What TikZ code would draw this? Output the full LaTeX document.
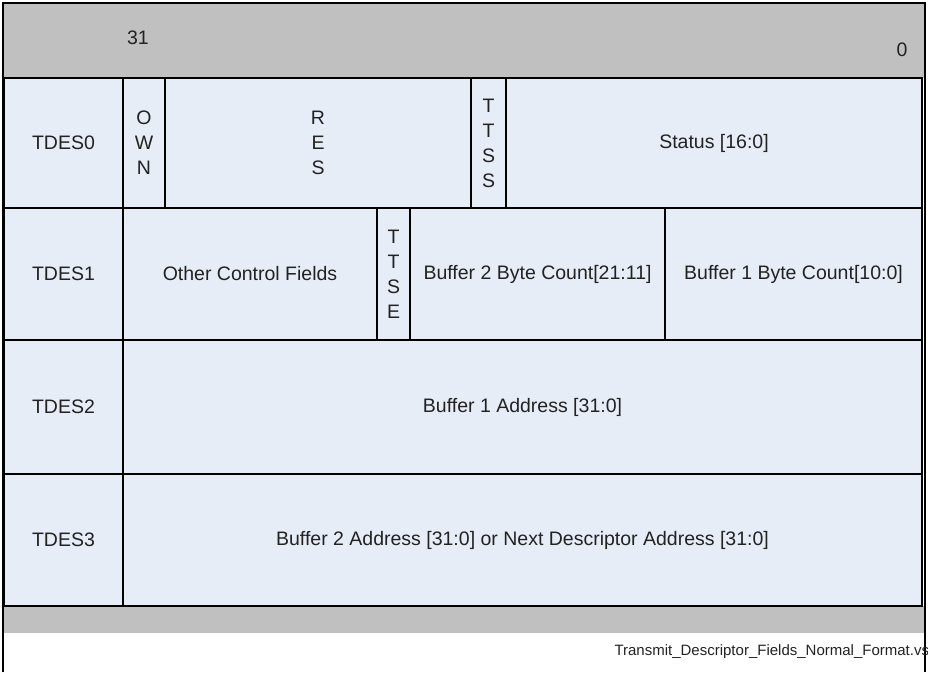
\documentclass[tikz,border=0pt]{standalone}
\usepackage{fontspec}
\setmainfont{Liberation Sans}
\definecolor{DescHeadColor}{RGB}{192,192,192}
\definecolor{DescCellColor}{RGB}{230,237,247}
\definecolor{DescTextColor}{RGB}{34,34,34}

\begin{document}
\begin{tikzpicture}[x=1pt,y=-1pt,font=\fontsize{19.5}{25}\selectfont,text=DescTextColor,
  fld/.style n args={2}{rectangle,draw=black,line width=2pt,fill=DescCellColor,minimum width=#1pt,minimum height=#2pt,inner sep=0pt,outer sep=0pt,align=center}]
\useasboundingbox (0,0) rectangle (928,672);
\fill[DescHeadColor] (3,3) rectangle (925,78);
\fill[DescHeadColor] (3,606) rectangle (925,632);
\draw[black!25,line width=1pt] (3,632) -- (925,632);
\node (msb) at (138,38) {31};
\node (lsb) at (902,50) {0};
\foreach \r/\y/\h in {0/143/130,1/274/132,2/407/134,3/540/132} {
   \node[fld={119}{\h}] (tdes\r) at (63.5,\y) {TDES\r};
}
\node[fld={42}{130}] (own) at (144,143) {O\\W\\N};
\node[fld={306}{130}] (res) at (318,143) {R\\E\\S};
\node[fld={35}{130}] (ttss) at (488.5,143) {T\\T\\S\\S};
\node[fld={416}{130}] (status) at (714,143) {Status [16:0]};
\node[fld={254}{132}] (ocf) at (250,274) {Other Control Fields};
\node[fld={33}{132}] (ttse) at (393.5,274) {T\\T\\S\\E};
\node[fld={255}{132}] (bufcnt2) at (537.5,274) {Buffer 2 Byte Count[21:11]};
\node[fld={257}{132}] (bufcnt1) at (793.5,274) {Buffer 1 Byte Count[10:0]};
\node[fld={799}{134}] (bufaddr1) at (522.5,407) {Buffer 1 Address [31:0]};
\node[fld={799}{132}] (bufaddr2) at (522.5,540) {Buffer 2 Address [31:0] or Next Descriptor Address [31:0]};
\draw[line width=1.5pt] (3,672) -- (3,3) -- (925,3) -- (925,672);
\node[anchor=west,font=\fontsize{15}{18}\selectfont] (vsdname) at (611,652) {Transmit\_Descriptor\_Fields\_Normal\_Format.vsd};
\end{tikzpicture}
\end{document}
